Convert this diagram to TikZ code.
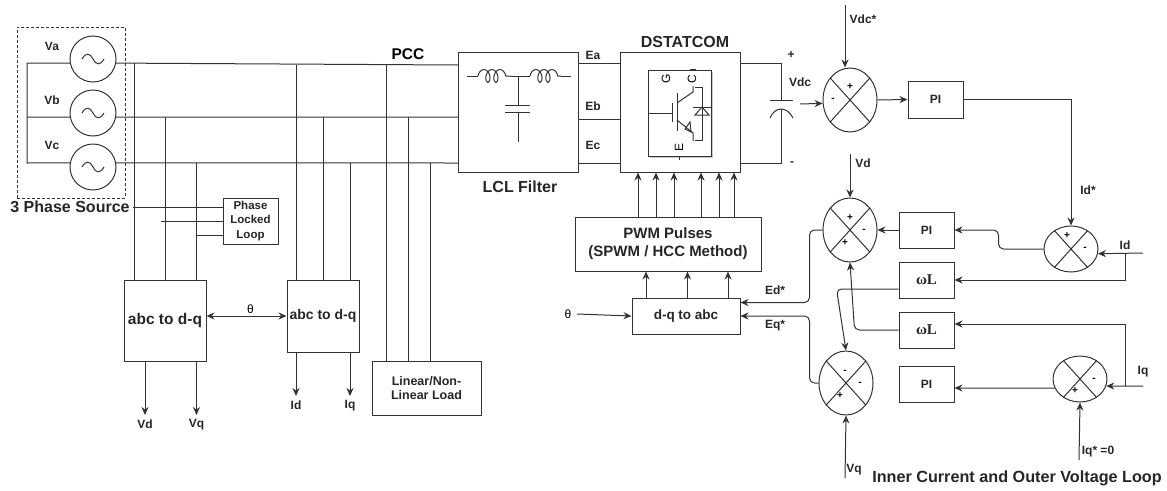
\documentclass[tikz,border=0pt]{standalone}
\usepackage{fontspec}
\setmainfont{Liberation Sans}
\newfontfamily\serifsym{Liberation Serif}
\usetikzlibrary{arrows.meta,shapes.geometric,shadows,decorations.pathmorphing}
\tikzset{
    lab/.style={font=\fontsize{12}{14}\selectfont\bfseries,text=black!85,inner sep=0pt},
    head/.style={font=\fontsize{16}{18}\selectfont\bfseries,text=black!85,inner sep=0pt},
    boxnode/.style={draw,rectangle,inner sep=0pt,align=center,text=black!85},
    srcnode/.style={draw,circle,minimum size=46pt,inner sep=0pt},
    sumnode/.style={draw,ellipse,minimum width=54pt,inner sep=0pt},
    signnode/.style={font=\fontsize{10}{10}\selectfont\bfseries,inner sep=0pt},
    coilline/.style={decorate,decoration={coil,aspect=0.6,segment length=8pt,amplitude=6.5pt}}
}
\begin{document}
\begin{tikzpicture}[x=1pt,y=-1pt,line width=1pt,draw=black!80,>={Stealth[length=8pt,width=7pt]}]
        \useasboundingbox (0,0) rectangle (1167,490);
        %% Source
        \node[draw,dash pattern=on 3pt off 2pt,rectangle,minimum width=108pt,minimum height=171pt] (srcbox) at (71,112.5) {};
        \node[srcnode] (srcA) at (93,59) {};
        \node[srcnode] (srcB) at (93,113) {};
        \node[srcnode] (srcC) at (93,167) {};
        \foreach \s in {srcA,srcB,srcC}
            \draw[shift={(\s)}] (-11,0) .. controls (-7,-7) and (-3,-6) .. (0,0) .. controls (3,6) and (7,7) .. (11,0);
        \draw (srcA.190) -- (27,63) -- (27,163) -- (srcC.170);
        \draw (27,117) -- (srcB.190);
        \node[lab] (va) at (52,46) {Va};
        \node[lab] (vb) at (52,100) {Vb};
        \node[lab] (vc) at (52,145) {Vc};
        \node[head] (srcname) at (70,207) {3 Phase Source};
        \node[font=\fontsize{15.5}{18}\selectfont\bfseries,inner sep=0pt] (pcc) at (408,54) {PCC};
        %% Boxes
        \node[boxnode,minimum width=120pt,minimum height=120pt] (lcl) at (518,112) {};
        \node[boxnode,minimum width=120pt,minimum height=120pt] (dstat) at (680,112) {};
        \node[boxnode,font=\fontsize{11.5}{14.5}\selectfont\bfseries,minimum width=55pt,minimum height=46pt] (pll) at (250.5,221) {Phase\\Locked\\Loop};
        \node[boxnode,font=\fontsize{15.5}{18}\selectfont\bfseries,minimum width=82pt,minimum height=81pt] (abcL) at (165,320.5) {abc to d-q};
        \node[boxnode,font=\fontsize{14}{18}\selectfont\bfseries,minimum width=72pt,minimum height=72pt] (abcR) at (323,316) {abc to d-q};
        \node[boxnode,font=\fontsize{12.5}{14.5}\selectfont\bfseries,minimum width=109pt,minimum height=54pt] (load) at (426.5,388) {Linear/Non-\\Linear Load};
        \node[boxnode,font=\fontsize{15}{18}\selectfont\bfseries,minimum width=186pt,minimum height=54pt] (pwm) at (668,244) {PWM Pulses\\(SPWM / HCC Method)};
        \node[boxnode,font=\fontsize{13.5}{16}\selectfont\bfseries,minimum width=108pt,minimum height=36pt] (dq) at (686,316) {d-q to abc};
        \node[head] (lclname) at (520,187) {LCL Filter};
        \node[head] (dstatname) at (685,42) {DSTATCOM};
        %% Bus
        \coordinate (busa) at (458,65);
        \coordinate (busb) at (458,117);
        \coordinate (busc) at (458,163);
        \draw (srcA.-10) -- (busa);
        \draw (srcB.-10) -- (busb);
        \draw (srcC.10) -- (busc);
        \foreach \px/\py/\bx in {134/63/abcL,165/117/abcL,196/163/abcL,296/65/abcR,323/117/abcR,350/163/abcR,386/65/load,408/117/load,430/163/load}
            \draw (\px,\py) -- (\px,\py |- \bx.north);
        \draw (133,207) -- (pll.west |- 0,207);
        \draw (161,221) -- (pll.west);
        \draw (196,235) -- (pll.west |- 0,235);
        %% Measured values
        \draw[<->] (abcL.east |- abcR) -- (abcR.west) node[pos=0.55,anchor=south,yshift=1pt,font=\fontsize{12}{13}\selectfont,inner sep=1pt] (thetaA) {θ};
        \foreach \px/\py/\bx/\t in {145/415/abcL/Vd,196.5/415/abcL/Vq,296/396/abcR/Id,350/396/abcR/Iq}
            \draw[->] (\px,\py |- \bx.south) -- (\px,\py) node[lab,anchor=north,yshift=-4pt] (out\t) {\t};
        %% LCL
        \draw (467,76) -- (478,76);
        \draw[coilline] (478,76) -- (511,76);
        \draw (511,76) -- (530,76);
        \draw[coilline] (530,76) -- (561,76);
        \draw (561,76) -- (571,76);
        \draw (518,76) -- (518,105);
        \draw (505,105) -- (530,105);
        \draw (505,112) -- (530,112);
        \draw (518,112) -- (518,142);
        \draw ([yshift=49pt]lcl.east) -- ([yshift=49pt]dstat.west);
        \draw ([yshift=-7pt]lcl.east) -- ([yshift=-7pt]dstat.west);
        \draw ([yshift=-51pt]lcl.east) -- ([yshift=-51pt]dstat.west);
        \node[lab] (ea) at (593,55) {Ea};
        \node[lab] (eb) at (593,106) {Eb};
        \node[lab] (ec) at (593,145) {Ec};
        %% IGBT
        \node[boxnode,fill=white,minimum width=63pt,minimum height=86pt,drop shadow={opacity=0.45,shadow xshift=2pt,shadow yshift=-2pt}] (igbt) at (679.5,113) {};
        \draw (igbt.west |- 0,113) -- (672,113);
        \draw (672,103) -- (672,122);
        \draw (677,93) -- (677,131);
        \draw (677,103) -- (693,92) -- (693,86);
        \draw (677,120) -- (693,133) -- (693,141);
        \draw (685,129) -- (690,122) -- (691,132) -- cycle;
        \draw (695,87) -- (702,87) -- (702,140) -- (695,140);
        \draw (693,107) -- (711,107);
        \draw (702,107) -- (695,115) -- (709,115) -- cycle;
        \draw (679,156) -- (679,160);
        \draw[line width=2pt] (690,70) -- (696,70);
        \node[font=\fontsize{12}{12}\selectfont,rotate=90,inner sep=0pt] (gate) at (666,79) {G};
        \node[font=\fontsize{12}{12}\selectfont,rotate=90,inner sep=0pt] (coll) at (692,79) {C};
        \node[font=\fontsize{12}{12}\selectfont,rotate=90,inner sep=0pt] (emit) at (679,147) {E};
        %% DC link
        \coordinate (dctop) at (781,63);
        \coordinate (dcbot) at (781,163);
        \draw ([yshift=49pt]dstat.east) -- (dctop) -- (781,100);
        \draw (770,100) -- (793,100);
        \draw (770,118) .. controls (775,106) and (787,106) .. (793,118);
        \draw (781,109) -- (dcbot) -- ([yshift=-51pt]dstat.east);
        \node[lab] (dcplus) at (791,55) {+};
        \node[lab] (dcminus) at (792,164) {-};
        \node[lab] (vdc) at (800,82) {Vdc};
        %% Pulses
        \foreach \px in {638,656,674,701,719,734}
            \draw[->] (\px,0 |- pwm.north) -- (\px,0 |- dstat.south);
        \foreach \px in {646,687.5,728}
            \draw[->] (\px,0 |- dq.north) -- (\px,0 |- pwm.south);
        \coordinate (thetain) at (577,314);
        \draw[->] (thetain) -- (dq.west);
        \node[font=\fontsize{12}{13}\selectfont,inner sep=0pt] (thetaB) at (568,314) {θ};
        %% Control blocks
        \foreach \nm/\py/\t in {PIdc/99.5/PI}
            \node[boxnode,font=\fontsize{12}{14}\selectfont\bfseries,minimum width=55pt,minimum height=37pt] (\nm) at (935.5,\py) {\t};
        \foreach \nm/\py/\t in {PId/230/PI,PIq/384/PI}
            \node[boxnode,font=\fontsize{12}{14}\selectfont\bfseries,minimum width=55pt,minimum height=36pt] (\nm) at (926.5,\py) {\t};
        \foreach \nm/\py in {wLd/280,wLq/330}
            \node[boxnode,font=\fontsize{15}{16}\selectfont\serifsym\bfseries,minimum width=55pt,minimum height=36pt] (\nm) at (926.5,\py) {ωL};
        %% Summing points
        \node[sumnode,minimum height=64pt] (sumVdc) at (850,100) {};
        \node[sumnode,minimum height=64pt] (sumVd) at (850,230) {};
        \node[sumnode,minimum height=64pt] (sumVq) at (846,383) {};
        \node[sumnode,minimum height=46pt] (sumId) at (1071,249) {};
        \node[sumnode,minimum height=46pt] (sumIq) at (1080,379) {};
        \foreach \s in {sumVdc,sumVd,sumVq,sumId,sumIq} {
            \draw (\s.132) -- (\s.-48);
            \draw (\s.48) -- (\s.-132);
        }
        \foreach \px/\py/\t in {850/87/+,833/100/-,850/218/+,864/231/-,845/243/+,845/372/-,860/384/-,840/396/+,1067/236/+,1085/249/-,1094/380/-,1075/391/+}
            \node[signnode] at (\px,\py) {\t};
        %% Loop connectors
        \coordinate (vdcin) at (800,104);
        \coordinate (vdcref) at (845,5);
        \coordinate (vdref) at (850,154);
        \coordinate (vqin) at (845,478);
        \coordinate (idin) at (1143,253);
        \coordinate (idtap) at (1125,253);
        \coordinate (iqin) at (1143,386);
        \coordinate (iqtap) at (1125,386);
        \coordinate (iqref) at (1079,460);
        \draw[->] (vdcin) -- (sumVdc.187);
        \draw[->] (vdcref) -- (sumVdc.north -| vdcref);
        \draw[->] (sumVdc.east) -- (PIdc.west);
        \draw[->] (PIdc.east) -| (sumId.north);
        \draw[->] (vdref) -- (sumVd.north);
        \draw[->,rounded corners=5pt] (sumId.west) -- ++(-45,0) |- (PId.east);
        \draw[->] (PId.west) -- (sumVd.east);
        \draw[->] (idin) -- (sumId.-10);
        \draw[->] (idtap) |- (wLd.east);
        \draw[->] (iqin) -- (sumIq.-15);
        \draw[->] (iqtap) |- ([yshift=6pt]wLq.east);
        \draw[->] (sumIq.200) -- ([yshift=-4pt]PIq.east);
        \draw[->] (iqref) -- (sumIq.south);
        \draw[->,rounded corners=5pt] ([yshift=-9pt]wLd.west) -- ++(-62,0) -- (sumVq.north);
        \draw[->,rounded corners=5pt] (wLq.west) -- ++(-44,0) -- (sumVd.south);
        \draw[->,rounded corners=5pt] (sumVd.west) -- ++(-13,0) |- ([yshift=-5pt]dq.north east);
        \draw[->,rounded corners=5pt] (sumVq.west) -- ++(-9,0) |- (dq.east);
        \draw[->] (vqin) -- (sumVq.south);
        %% Loop labels
        \node[lab] (lvdcref) at (863,19) {Vdc*};
        \node[lab] (lvdref) at (863,163) {Vd};
        \node[lab] (lidref) at (1088,190) {Id*};
        \node[lab] (lid) at (1125,245) {Id};
        \node[lab] (liq) at (1143,372) {Iq};
        \node[lab] (liqref) at (1098,452) {Iq* =0};
        \node[lab] (lvq) at (854,470) {Vq};
        \node[lab] (led) at (775,290) {Ed*};
        \node[lab] (leq) at (775,326) {Eq*};
        \node[font=\fontsize{16.2}{18}\selectfont\bfseries,text=black!85,inner sep=0pt] (loopname) at (1017,478) {Inner Current and Outer Voltage Loop};
    \end{tikzpicture}
\end{document}
